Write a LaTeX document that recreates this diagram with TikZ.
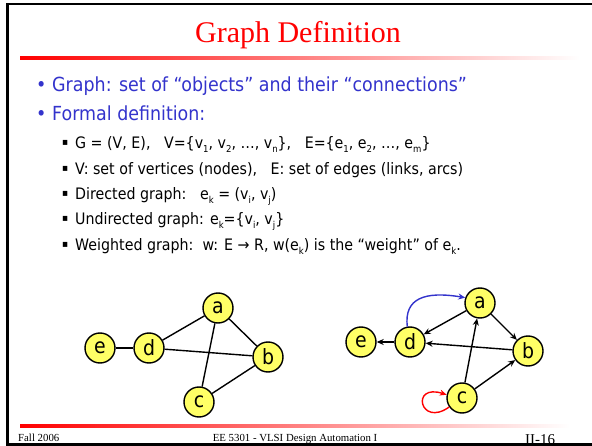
\documentclass[tikz,border=0pt]{standalone}
\usepackage{fontspec}
\setmainfont{Liberation Serif}
\newfontfamily\tah[FakeStretch=0.9]{DejaVu Sans}
\usetikzlibrary{arrows.meta}
\definecolor{bblue}{RGB}{51,51,204}
\definecolor{nodey}{RGB}{255,255,102}
\newcommand{\sbs}[1]{\raisebox{-0.4ex}{\fontsize{9.5}{9.5}\selectfont #1}}
\begin{document}
\begin{tikzpicture}[x=1pt,y=-1pt,
  vtx/.style={circle,draw=black,line width=1.4pt,fill=nodey,minimum size=30pt,inner sep=0pt,font=\tah\fontsize{21}{21}\selectfont},
  edge/.style={line width=1.4pt,black},
  arr/.style={edge,-{Stealth[length=7pt,width=6pt]}},
  lvl1/.style={anchor=base west,inner sep=0pt,text=bblue,font=\tah\fontsize{19.4}{19.4}\selectfont},
  lvl2/.style={anchor=base west,inner sep=0pt,font=\tah\fontsize{15.8}{15.8}\selectfont},
  sqb/.style={anchor=base west,inner sep=0pt,font=\tah\fontsize{10}{10}\selectfont},
  foot/.style={anchor=base,inner sep=0pt,font=\fontsize{10.8}{10.8}\selectfont}]
\useasboundingbox (0,0) rectangle (592,446);
\fill[white] (0,0) rectangle (592,446);
% frame
\draw[line width=2.5pt] (592,4.2) -- (7.7,4.2) -- (7.7,444.5) -- (592,444.5);
% title
\node[anchor=base,inner sep=0pt,text=red,font=\fontsize{30}{30}\selectfont] (title) at (298,43) {Graph Definition};
\shade[left color=red,right color=white] (20,57) rectangle (580,60);
% bullets
\node[lvl1] (b1) at (36,92) {•};
\node[lvl1] (t1) at (52,92) {Graph: set of “objects” and their “connections”};
\node[lvl1] (b2) at (36,121) {•};
\node[lvl1] (t2) at (52,121) {Formal definition:};
\node[sqb] (s1b) at (62,146) {▪};
\node[lvl2] (s1) at (75,149) {G = (V, E),\ \ \ V=\{v\sbs{1}, v\sbs{2}, …, v\sbs{n}\},\ \ \ E=\{e\sbs{1}, e\sbs{2}, …, e\sbs{m}\}};
\node[sqb] (s2b) at (62,172) {▪};
\node[lvl2] (s2) at (75,175) {V: set of vertices (nodes),\ \ \ E: set of edges (links, arcs)};
\node[sqb] (s3b) at (62,197) {▪};
\node[lvl2] (s3) at (75,200) {Directed graph:\ \ \ e\sbs{k} = (v\sbs{i}, v\sbs{j})};
\node[sqb] (s4b) at (62,222) {▪};
\node[lvl2] (s4) at (75,225) {Undirected graph: e\sbs{k}=\{v\sbs{i}, v\sbs{j}\}};
\node[sqb] (s5b) at (62,248) {▪};
\node[lvl2] (s5) at (75,251) {Weighted graph:\ \ w: E → R, w(e\sbs{k}) is the “weight” of e\sbs{k}.};
% left graph
\node[vtx] (la) at (218,308) {a};
\node[vtx] (le) at (100,348) {e};
\node[vtx] (ld) at (149,348) {d};
\node[vtx] (lb) at (268,357) {b};
\node[vtx] (lc) at (199,402) {c};
\draw[edge] (le) -- (ld);
\draw[edge] (ld) -- (la);
\draw[edge] (ld) -- (lb);
\draw[edge] (la) -- (lb);
\draw[edge] (la) -- (lc);
\draw[edge] (lc) -- (lb);
% right graph
\node[vtx] (ra) at (480,303) {a};
\node[vtx] (re) at (361,342) {e};
\node[vtx] (rd) at (410,342) {d};
\node[vtx] (rb) at (528,351) {b};
\node[vtx] (rc) at (462,398) {c};
\draw[arr] (ra) -- (rd);
\draw[arr] (ra) -- (rb);
\draw[arr] (rb) -- (rd);
\draw[arr] (rd) -- (re);
\draw[arr] (rc) -- (ra);
\draw[arr] (rc) -- (rb);
\draw[line width=1.4pt,color=bblue,-{Stealth[length=7pt,width=6pt]}] (rd.100) .. controls (404,298) and (425,291) .. (ra.160);
\draw[line width=1.4pt,red,-{Stealth[length=7pt,width=6pt]}] (rc.215) .. controls (420,428) and (410,383) .. (rc.168);
% footer
\shade[left color=red,right color=white] (20,424) rectangle (570,427);
\node[foot,anchor=base west] (f1) at (18,441) {Fall 2006};
\node[foot] (f2) at (295,441) {EE 5301 - VLSI Design Automation I};
\node[anchor=base west,inner sep=0pt,font=\fontsize{15}{15}\selectfont] (f3) at (525,444) {II-16};
\end{tikzpicture}
\end{document}
